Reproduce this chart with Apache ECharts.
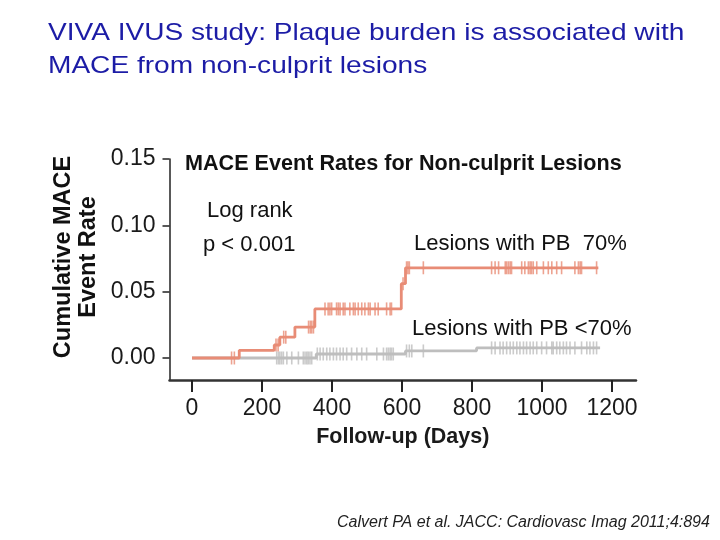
<!DOCTYPE html>
<html>
<head>
<meta charset="utf-8">
<script src="https://cdn.jsdelivr.net/npm/echarts@6/dist/echarts.min.js"></script>
<style>
  html, body { margin: 0; padding: 0; background: #fff; }
  #chart { width: 720px; height: 540px; }
</style>
</head>
<body>
<div id="chart"></div>
<script>
// ---- Data ----
const xTickValues = [0, 200, 400, 600, 800, 1000, 1200];
const yTickValues = [0, 0.05, 0.10, 0.15];

// Kaplan-Meier step points (day at which the cumulative rate changes, new rate)
const redDays  = [0, 135, 235, 251, 294, 351, 598, 610, 1161];
const redRates = [0, 0.0058, 0.0098, 0.0157, 0.0233, 0.037, 0.056, 0.068, 0.068];

const grayDays  = [0, 355, 610, 813, 1166];
const grayRates = [0, 0.003, 0.0053, 0.0076, 0.0076];

// censored observations (tick marks)
const redCensorDays = [113, 121, 240, 246, 262, 268, 333, 338, 342, 347,
  380, 389, 394, 399, 413, 418, 423, 432, 437, 451, 461, 466, 475, 485, 494, 504, 509, 523, 532, 556, 566, 570,
  603, 613, 617, 621, 661, 856, 866, 876, 895, 899, 904, 909, 913, 942, 951, 961, 966, 970, 975, 985,
  1004, 1018, 1028, 1042, 1056, 1094, 1104, 1109, 1113, 1156];
const grayCensorDays = [242, 247, 251, 256, 261, 271, 285, 304, 318, 323, 328, 332, 337, 342,
  358, 366, 375, 385, 394, 404, 413, 423, 432, 442, 456, 471, 485, 499, 528, 547, 556, 561, 566, 570, 575,
  613, 621, 628, 661, 856, 866, 880, 889, 899, 909, 918, 928, 937, 947, 956, 966, 975, 985, 999,
  1013, 1028, 1032, 1042, 1051, 1061, 1070, 1080, 1094, 1113, 1128, 1137, 1147, 1156];

// ---- Build series data ----
function pairs(days, rates) { return days.map((d, i) => [d, rates[i]]); }
function levelAt(days, rates, day) {
  let v = rates[0];
  for (let i = 0; i < days.length; i++) { if (days[i] <= day) v = rates[i]; }
  return v;
}
const redPts = pairs(redDays, redRates);
const grayPts = pairs(grayDays, grayRates);
const redCens = redCensorDays.map(d => [d, levelAt(redDays, redRates, d)]);
const grayCens = grayCensorDays.map(d => [d, levelAt(grayDays, grayRates, d)]);

const RED = '#E88C76';
const GRAY = '#BEBEBE';
const FONT = "'Liberation Sans', Arial, Helvetica, sans-serif";

const chart = echarts.init(document.getElementById('chart'), null, { renderer: 'canvas' });
chart.setOption({
  animation: false,
  backgroundColor: '#ffffff',
  textStyle: { fontFamily: FONT },
  grid: { left: 169.5, top: 159, right: 84, bottom: 160 },
  xAxis: {
    type: 'value',
    min: -64.3,
    max: 1268.6,
    axisLine: { show: true, onZero: false, lineStyle: { color: '#333', width: 2.5 } },
    axisTick: { show: true, length: 12, customValues: xTickValues, lineStyle: { color: '#222', width: 2 } },
    axisLabel: { customValues: xTickValues, margin: 17, fontSize: 23, color: '#1a1a1a', fontFamily: FONT,
      formatter: v => String(v) },
    splitLine: { show: false },
    name: 'Follow-up (Days)',
    nameLocation: 'middle',
    nameGap: 46,
    nameTextStyle: { fontSize: 21.5, fontWeight: 'bold', color: '#1a1a1a', fontFamily: FONT }
  },
  yAxis: {
    type: 'value',
    min: -0.0166,
    max: 0.15,
    axisLine: { show: true, onZero: false, lineStyle: { color: '#222', width: 1.5 } },
    axisTick: { show: true, length: 7, customValues: yTickValues, lineStyle: { color: '#222', width: 1.5 } },
    axisLabel: {
      customValues: yTickValues, margin: 14, fontSize: 23, color: '#1a1a1a', fontFamily: FONT,
      formatter: v => v.toFixed(2)
    },
    splitLine: { show: false }
  },
  series: [
    { type: 'line', step: 'end', data: grayPts, symbol: 'none', silent: true,
      lineStyle: { color: GRAY, width: 2.8 }, z: 2 },
    { type: 'scatter', data: grayCens, symbol: 'rect', symbolSize: [1.6, 13], silent: true,
      itemStyle: { color: GRAY }, z: 3 },
    { type: 'line', step: 'end', data: redPts, symbol: 'none', silent: true,
      lineStyle: { color: RED, width: 2.8 }, z: 4 },
    { type: 'scatter', data: redCens, symbol: 'rect', symbolSize: [1.6, 13], silent: true,
      itemStyle: { color: RED }, z: 5 }
  ],
  graphic: [
    { type: 'text', x: 48, y: 33, scaleX: 1.17, style: { text: 'VIVA IVUS study: Plaque burden is associated with',
      font: "24px " + FONT, fill: '#1C1CA6', align: 'left', verticalAlign: 'middle' } },
    { type: 'text', x: 48, y: 66, scaleX: 1.17, style: { text: 'MACE from non-culprit lesions',
      font: "24px " + FONT, fill: '#1C1CA6', align: 'left', verticalAlign: 'middle' } },
    { type: 'text', x: 185, y: 164, style: { text: 'MACE Event Rates for Non-culprit Lesions',
      font: "bold 21.6px " + FONT, fill: '#111', align: 'left', verticalAlign: 'middle' } },
    { type: 'text', x: 207, y: 211, style: { text: 'Log rank',
      font: "22px " + FONT, fill: '#111', align: 'left', verticalAlign: 'middle' } },
    { type: 'text', x: 203, y: 245, style: { text: 'p < 0.001',
      font: "22px " + FONT, fill: '#111', align: 'left', verticalAlign: 'middle' } },
    { type: 'text', x: 414, y: 244, style: { text: 'Lesions with PB  70%',
      font: "22px " + FONT, fill: '#111', align: 'left', verticalAlign: 'middle' } },
    { type: 'text', x: 412, y: 329, style: { text: 'Lesions with PB <70%',
      font: "22px " + FONT, fill: '#111', align: 'left', verticalAlign: 'middle' } },
    { type: 'text', x: 64, y: 257, rotation: Math.PI / 2, style: { text: 'Cumulative MACE',
      font: "bold 23.5px " + FONT, fill: '#111', align: 'center', verticalAlign: 'middle' } },
    { type: 'text', x: 89, y: 257, rotation: Math.PI / 2, style: { text: 'Event Rate',
      font: "bold 23.5px " + FONT, fill: '#111', align: 'center', verticalAlign: 'middle' } },
    { type: 'text', x: 337, y: 523, style: { text: 'Calvert PA et al. JACC: Cardiovasc Imag 2011;4:894',
      font: "italic 16px " + FONT, fill: '#222', align: 'left', verticalAlign: 'middle' } }
  ]
});
</script>
</body>
</html>
